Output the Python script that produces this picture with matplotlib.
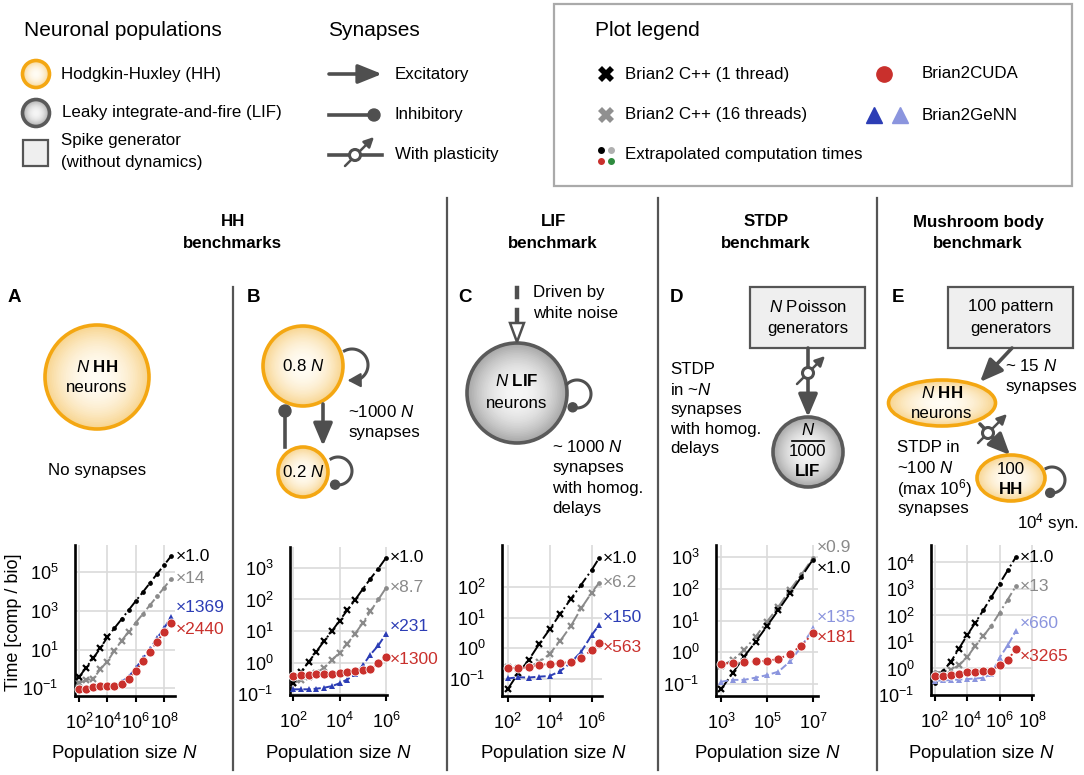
import numpy as np
import matplotlib
matplotlib.use("Agg")
import matplotlib.pyplot as plt
from matplotlib.patches import Circle, Ellipse, Rectangle, Polygon
from matplotlib.ticker import FixedLocator, NullLocator, FuncFormatter
from matplotlib.colors import to_rgb

plt.rcParams['font.family'] = ['Liberation Sans', 'DejaVu Sans']
plt.rcParams['mathtext.fontset'] = 'custom'
plt.rcParams['mathtext.rm'] = 'Liberation Sans'
plt.rcParams['mathtext.it'] = 'Liberation Sans:italic'
plt.rcParams['mathtext.bf'] = 'Liberation Sans:bold'

# ---- benchmark data, log10(N) and log10(time comp/bio) ----
a_n = [2, 2.5, 3, 3.5, 4, 4.5, 5, 5.5, 6, 6.5, 7, 7.5, 8, 8.5]
a_cpp1 = [-0.43, 0.07, 0.55, 1.07, 1.64, 2.11, 2.57, 3.04, 3.51, 3.97, 4.44, 4.91, 5.37, 5.84]
a_cpp16 = [-0.74, -0.57, -0.52, -0.02, 0.38, 0.95, 1.45, 1.93, 2.39, 2.84, 3.3, 3.75, 4.2, 4.66]
a_genn = [-1.0, -0.98, -0.93, -0.88, -0.86, -0.84, -0.66, -0.4, 0.03, 0.55, 1.03, 1.59, 2.1, 2.71]
a_cuda = [-1.05, -1.03, -0.95, -0.88, -0.88, -0.88, -0.76, -0.52, -0.09, 0.41, 0.9, 1.41, 1.9, 2.4]
a_labels = ['×1.0', '×14', '×1369', '×2440']

b_n = [2, 2.33, 2.67, 3, 3.33, 3.67, 4, 4.33, 4.67, 5, 5.33, 5.67, 6]
b_cpp1 = [-0.63, -0.3, 0.02, 0.35, 0.68, 1.0, 1.33, 1.66, 1.99, 2.33, 2.66, 2.98, 3.32]
b_cpp16 = [-0.65, -0.55, -0.45, -0.32, -0.16, 0.08, 0.32, 0.6, 0.92, 1.26, 1.63, 2.0, 2.37]
b_genn = [-0.84, -0.84, -0.84, -0.82, -0.79, -0.74, -0.65, -0.53, -0.37, -0.08, 0.26, 0.55, 0.92]
b_cuda = [-0.42, -0.4, -0.39, -0.37, -0.37, -0.35, -0.34, -0.29, -0.26, -0.24, -0.19, -0.02, 0.19]
b_labels = ['×1.0', '×8.7', '×231', '×1300']

c_n = [2, 2.5, 3, 3.5, 4, 4.5, 5, 5.5, 6, 6.35]
c_cpp1 = [-1.33, -0.81, -0.38, 0.14, 0.62, 1.12, 1.6, 2.07, 2.55, 2.93]
c_cpp16 = [-0.62, -0.65, -0.6, -0.45, -0.18, 0.24, 0.72, 1.3, 1.81, 2.13]
c_genn = [-0.98, -0.94, -0.95, -0.92, -0.9, -0.74, -0.47, -0.11, 0.43, 0.76]
c_cuda = [-0.65, -0.63, -0.62, -0.54, -0.51, -0.49, -0.43, -0.33, -0.05, 0.16]
c_labels = ['×1.0', '×6.2', '×150', '×563']

d_n = [3, 3.5, 4, 4.5, 5, 5.5, 6, 6.5, 7]
d_cpp1 = [-1.17, -0.66, -0.14, 0.33, 0.83, 1.34, 1.86, 2.39, 2.93]
d_cpp16 = [-0.42, -0.25, 0.07, 0.49, 0.97, 1.44, 1.97, 2.46, 2.98]
d_genn = [-0.93, -0.87, -0.87, -0.8, -0.72, -0.61, -0.29, 0.18, 0.76]
d_cuda = [-0.37, -0.33, -0.32, -0.29, -0.27, -0.21, -0.05, 0.21, 0.6]
d_labels = ['×1.0', '×0.9', '×135', '×181']

e_n = [2, 2.5, 3, 3.5, 4, 4.5, 5, 5.5, 6, 6.5, 7]
e_cpp1 = [-0.55, -0.1, 0.25, 0.75, 1.25, 1.72, 2.2, 2.7, 3.2, 3.7, 4.2]
e_cpp16 = [-0.15, -0.12, -0.05, 0.12, 0.42, 0.85, 1.22, 1.62, 2.1, 2.6, 3.1]
e_genn = [-0.46, -0.45, -0.44, -0.42, -0.4, -0.38, -0.35, -0.21, 0.41, 0.87, 1.41]
e_cuda = [-0.28, -0.28, -0.25, -0.19, -0.15, -0.15, -0.11, -0.1, 0.12, 0.32, 0.72]
e_labels = ['×1.0', '×13', '×660', '×3265']

BLACK = '#000000'
GRAY = '#8a8a8a'
RED = '#c9302c'
BLUE = '#2c3db5'
LBLUE = '#8b95de'
SYN = '#4f4f4f'

W, H = 1084, 775
fig = plt.figure(figsize=(W / 100, H / 100), dpi=100)

# overlay in pixel coordinates for diagrams and text
ov = fig.add_axes([0, 0, 1, 1])
ov.set_xlim(0, W)
ov.set_ylim(H, 0)
ov.axis('off')


def txt(x, y, s, size=12.2, **kw):
    kw.setdefault('ha', 'left')
    kw.setdefault('va', 'center')
    ov.text(x, y, s, fontsize=size, **kw)


def arrow(x0, y0, x1, y1, hl=18, hw=8, lw=2.4, color=SYN):
    style = '-|>,head_length=%.2f,head_width=%.2f' % (hl * 0.72 / 10, hw * 0.72 / 10)
    ov.annotate('', xy=(x1, y1), xytext=(x0, y0),
                arrowprops=dict(arrowstyle=style, color=color, lw=lw,
                                mutation_scale=10, shrinkA=0, shrinkB=0))


def neuron(cx, cy, w, h, kind, lw=2.4):
    if kind == 'hh':
        c_in, c_out, edge = '#fffcf4', '#f8d48e', '#f4a712'
    else:
        c_in, c_out, edge = '#f6f6f6', '#a6a6a6', '#5a5a5a'
    a = np.array(to_rgb(c_in))
    b = np.array(to_rgb(c_out))
    for f in np.linspace(1, 0.04, 30):
        col = a + (b - a) * f ** 2.2
        ov.add_patch(Ellipse((cx, cy), w * f, h * f, facecolor=col, edgecolor='none', zorder=2))
    ov.add_patch(Ellipse((cx, cy), w, h, facecolor='none', edgecolor=edge, lw=lw, zorder=3))


def loop(cx, cy, r, a0, a1, end):
    th = np.radians(np.linspace(a0, a1, 60))
    xs = cx + r * np.cos(th)
    ys = cy - r * np.sin(th)
    if end == 'dot':
        ov.plot(xs, ys, color=SYN, lw=2.2, zorder=4)
        ov.add_patch(Circle((xs[-1], ys[-1]), 4.5, color=SYN, zorder=5))
    else:
        ov.plot(xs[:-8], ys[:-8], color=SYN, lw=2.2, zorder=4)
        arrow(xs[-10], ys[-10], xs[-1], ys[-1], hl=11, hw=6, lw=1.5)


def plastic(cx, cy, x0, y0, x1, y1):
    arrow(x0, y0, x1, y1, hl=8, hw=4, lw=1.8)
    ov.add_patch(Circle((cx, cy), 5.5, facecolor='white', edgecolor=SYN, lw=2.2, zorder=6))


def box(x, y, w, h):
    ov.add_patch(Rectangle((x, y), w, h, facecolor='#efefef', edgecolor='#555555', lw=1.6, zorder=2))


# ---- top legends ----
txt(24, 30, 'Neuronal populations', size=15)
neuron(36, 74, 27, 27, 'hh', lw=2.6)
txt(61, 74, 'Hodgkin-Huxley (HH)')
neuron(36, 113, 27, 27, 'lif', lw=2.6)
txt(62, 113, 'Leaky integrate-and-fire (LIF)')
box(22.5, 140, 25.5, 26)
txt(61, 141, 'Spike generator')
txt(61, 162, '(without dynamics)')

txt(328, 30, 'Synapses', size=15)
arrow(329, 74, 382, 74, hl=20, hw=8, lw=2.6)
txt(395, 74, 'Excitatory')
ov.plot([329, 372], [115, 115], color=SYN, lw=2.6)
ov.add_patch(Circle((374, 115), 6, color=SYN, zorder=5))
txt(395, 115, 'Inhibitory')
ov.plot([329, 382], [155, 155], color=SYN, lw=2.6)
plastic(355, 155, 345, 166, 374, 137)
txt(395, 155, 'With plasticity')

ov.add_patch(Rectangle((554, 4), 518, 182, facecolor='none', edgecolor='#aaaaaa', lw=1.6))
txt(595, 30, 'Plot legend', size=15)
ov.plot([606], [74], marker='X', ms=11, color=BLACK, mew=0)
txt(625, 74, 'Brian2 C++ (1 thread)')
ov.plot([606], [115], marker='X', ms=11, color='#909090', mew=0)
txt(625, 115, 'Brian2 C++ (16 threads)')
ov.plot([600.5], [149.5], 'o', ms=4, color=BLACK)
ov.plot([611], [149.5], 'o', ms=4, color='#b0b0b0')
ov.plot([600.5], [161], 'o', ms=4, color=RED)
ov.plot([611], [161], 'o', ms=4, color='#2e8b3e')
txt(625, 155, 'Extrapolated computation times')
ov.plot([884], [74], 'o', ms=11, color=RED)
txt(922, 74, 'Brian2CUDA')
ov.plot([874], [115], '^', ms=11, color=BLUE)
ov.plot([900], [115], '^', ms=11, color=LBLUE)
txt(922, 115, 'Brian2GeNN')

# ---- separators and section titles ----
for sx, top in [(233, 287), (447, 198), (658, 198), (877, 198)]:
    ov.plot([sx, sx], [top, 770], color='#555555', lw=1.6)

for cx, l1, l2 in [(233, 'HH', 'benchmarks'), (553, 'LIF', 'benchmark'),
                   (766, 'STDP', 'benchmark'), (978, 'Mushroom body', 'benchmark')]:
    txt(cx, 222, l1, ha='center', fontweight='bold')
    txt(cx, 243, l2, ha='center', fontweight='bold')

for lx, letter in [(8, 'A'), (247, 'B'), (458, 'C'), (670, 'D'), (892, 'E')]:
    txt(lx, 298, letter, size=13.5, fontweight='bold')

# ---- diagram A ----
neuron(97, 377, 104, 104, 'hh', lw=2.6)
txt(97, 367, '$\\mathit{N}$ HH', ha='center', fontweight='bold')
txt(97, 388, 'neurons', ha='center')
txt(97, 470, 'No synapses', ha='center')

# ---- diagram B ----
neuron(303, 366, 80, 80, 'hh', lw=2.6)
txt(303, 366, '0.8 $\\mathit{N}$', ha='center')
neuron(303, 472, 50, 50, 'hh', lw=2.6)
txt(303, 472, '0.2 $\\mathit{N}$', ha='center')
arrow(323, 404, 323, 446, hl=19, hw=8, lw=2.6)
ov.plot([285, 285], [447, 414], color=SYN, lw=2.6)
ov.add_patch(Circle((285, 411), 6, color=SYN, zorder=5))
loop(352, 365, 16, 118, -106, 'arrow')
loop(338, 471, 14, 120, -102, 'dot')
txt(348, 412, '~1000 $\\mathit{N}$')
txt(348, 432, 'synapses')

# ---- diagram C ----
neuron(517, 393, 100, 100, 'lif', lw=2.6)
txt(517, 381, '$\\mathit{N}$ LIF', ha='center', fontweight='bold')
txt(517, 403, 'neurons', ha='center')
ov.plot([517, 517], [288, 297], color=SYN, lw=3.2)
ov.plot([517, 517], [310, 321], color=SYN, lw=3.2)
ov.add_patch(Polygon([[510, 323], [524, 323], [517, 342]], closed=True,
                     facecolor='white', edgecolor=SYN, lw=1.8, zorder=4))
txt(533, 293, 'Driven by')
txt(533, 313, 'white noise')
loop(577, 394, 14, 135, -108, 'dot')
for i, s in enumerate(['~ 1000 $\\mathit{N}$', 'synapses', 'with homog.', 'delays']):
    txt(552, 447 + 20.5 * i, s)

# ---- diagram D ----
box(750, 287, 115, 61)
txt(808, 307, '$\\mathit{N}$ Poisson', ha='center')
txt(808, 328, 'generators', ha='center')
arrow(808, 348, 808, 417, hl=19, hw=8, lw=2.6)
plastic(808, 373, 797, 384, 825, 356)
neuron(808, 452, 70, 70, 'lif', lw=2.6)
txt(808, 430, '$\\mathit{N}$', ha='center')
ov.plot([792, 824], [441, 441], color='black', lw=1.2, zorder=5)
txt(808, 452, '1000', ha='center')
txt(808, 472, 'LIF', ha='center', fontweight='bold')
for i, s in enumerate(['STDP', 'in ~$\\mathit{N}$', 'synapses', 'with homog.', 'delays']):
    txt(670, 370 + 19.7 * i, s)

# ---- diagram E ----
box(948, 287, 125, 61)
txt(1011, 307, '100 pattern', ha='center')
txt(1011, 328, 'generators', ha='center')
arrow(1012, 348, 980, 382, hl=19, hw=8, lw=2.6)
txt(1005, 366, '~ 15 $\\mathit{N}$')
txt(1005, 386, 'synapses')
neuron(942, 403, 107, 46, 'hh', lw=2.6)
txt(942, 393, '$\\mathit{N}$ HH', ha='center', fontweight='bold')
txt(942, 414, 'neurons', ha='center')
arrow(980, 424, 1010, 455, hl=18, hw=8, lw=2.6)
plastic(988, 433, 978, 443, 1007, 414)
neuron(1011, 478, 68, 46, 'hh', lw=2.6)
txt(1011, 470, '100', ha='center')
txt(1011, 490, 'HH', ha='center', fontweight='bold')
loop(1052, 480, 13, 117, -98, 'dot')
txt(1017, 523, '$10^{4}$ syn.')
for i, s in enumerate(['STDP in', '~100 $\\mathit{N}$', '(max $10^{6}$)', 'synapses']):
    txt(897, 448 + 20.3 * i, s)

# ---- benchmark plots ----
fmt = FuncFormatter(lambda v, p: '$10^{%d}$' % int(round(np.log10(v))))


def panel(px, xl, yl, xt, yt):
    left, right, top, bottom = px
    ax = fig.add_axes([left / W, 1 - bottom / H, (right - left) / W, (bottom - top) / H])
    ax.set_facecolor('none')
    ax.set_xscale('log')
    ax.set_yscale('log')
    ax.set_xlim(10.0 ** xl[0], 10.0 ** xl[1])
    ax.set_ylim(10.0 ** yl[0], 10.0 ** yl[1])
    ax.xaxis.set_major_locator(FixedLocator([10.0 ** k for k in xt]))
    ax.yaxis.set_major_locator(FixedLocator([10.0 ** k for k in yt]))
    ax.xaxis.set_minor_locator(NullLocator())
    ax.yaxis.set_minor_locator(NullLocator())
    ax.xaxis.set_major_formatter(fmt)
    ax.yaxis.set_major_formatter(fmt)
    ax.grid(True, color='#dadada', lw=1.2)
    ax.set_axisbelow(True)
    for s in ['top', 'right']:
        ax.spines[s].set_visible(False)
    for s in ['left', 'bottom']:
        ax.spines[s].set_linewidth(1.9)
    ax.tick_params(axis='x', length=4, width=1.5, pad=8, labelsize=13)
    ax.tick_params(axis='y', length=0, pad=12, labelsize=13)
    return ax


def series(ax, n, t, color, ls, marker, ms, meas, z):
    x = 10.0 ** np.asarray(n)
    y = 10.0 ** np.asarray(t)
    ax.plot(x, y, color=color, ls=ls, lw=1.4, zorder=z, clip_on=False)
    i0, i1 = meas
    kw = dict(ls='none', color=color, zorder=z + 0.5, clip_on=False)
    if marker == 'o':
        kw.update(mec='white', mew=0.6)
    elif marker == 'x':
        kw.update(mew=1.6)
    else:
        kw.update(mew=0)
    ax.plot(x[i0:i1], y[i0:i1], marker=marker, ms=ms, **kw)
    rest = np.r_[0:i0, i1:len(x)].astype(int)
    if len(rest):
        ax.plot(x[rest], y[rest], ls='none', marker='o', ms=2.4, color=color,
                zorder=z + 0.5, clip_on=False)


def endlabel(ax, n, t, s, color, dy):
    ax.annotate(s, xy=(10.0 ** n[-1], 10.0 ** t[-1]), xytext=(3, -dy * 0.72),
                textcoords='offset points', color=color, fontsize=12.5,
                ha='left', va='center', annotation_clip=False)


panels = [
    dict(px=(75, 175, 545, 696), xl=(1.72, 8.77), yl=(-1.4, 6.41), xt=[2, 4, 6, 8], yt=[-1, 1, 3, 5],
         n=a_n, cpp1=a_cpp1, cpp16=a_cpp16, genn=a_genn, cuda=a_cuda, labels=a_labels,
         m1=(0, 5), m16=(0, 8), gcol=BLUE, dys=[0, 0, -9, 7], cx=124),
    dict(px=(290, 387, 547, 695), xl=(1.87, 6.04), yl=(-1.02, 3.66), xt=[2, 4, 6], yt=[-1, 0, 1, 2, 3],
         n=b_n, cpp1=b_cpp1, cpp16=b_cpp16, genn=b_genn, cuda=b_cuda, labels=b_labels,
         m1=(0, 9), m16=(0, 11), gcol=BLUE, dys=[0, 0, -7, 3], cx=338),
    dict(px=(502, 602, 545, 696), xl=(1.73, 6.49), yl=(-1.55, 3.36), xt=[2, 4, 6], yt=[-1, 0, 1, 2],
         n=c_n, cpp1=c_cpp1, cpp16=c_cpp16, genn=c_genn, cuda=c_cuda, labels=c_labels,
         m1=(0, 7), m16=(0, 9), gcol=BLUE, dys=[0, 0, -7, 4], cx=553),
    dict(px=(716, 818, 545, 696), xl=(2.78, 7.22), yl=(-1.38, 3.39), xt=[3, 5, 7], yt=[-1, 0, 1, 2, 3],
         n=d_n, cpp1=d_cpp1, cpp16=d_cpp16, genn=d_genn, cuda=d_cuda, labels=d_labels,
         m1=(0, 7), m16=(0, 7), gcol=LBLUE, dys=[9, -10, -11, 4], cx=767),
    dict(px=(931, 1033, 545, 695), xl=(1.78, 8.06), yl=(-1.0, 4.66), xt=[2, 4, 6, 8], yt=[-1, 0, 1, 2, 3, 4],
         n=e_n, cpp1=e_cpp1, cpp16=e_cpp16, genn=e_genn, cuda=e_cuda, labels=e_labels,
         m1=(2, 6), m16=(2, 7), gcol=LBLUE, dys=[0, 0, -8, 7], cx=981),
]

for p in panels:
    ax = panel(p['px'], p['xl'], p['yl'], p['xt'], p['yt'])
    n = p['n']
    series(ax, n, p['cpp16'], GRAY, '-.', 'x', 5, p['m16'], 3)
    series(ax, n, p['cpp1'], BLACK, '-.', 'x', 5, p['m1'], 4)
    series(ax, n, p['genn'], p['gcol'], '--', '^', 5, (0, len(n)), 5)
    series(ax, n, p['cuda'], RED, ':', 'o', 6.5, (0, len(n)), 6)
    cols = [BLACK, GRAY, p['gcol'], RED]
    vals = [p['cpp1'], p['cpp16'], p['genn'], p['cuda']]
    for s, c, v, dy in zip(p['labels'], cols, vals, p['dys']):
        endlabel(ax, n, v, s, c, dy)
    txt(p['cx'], 753, 'Population size $\\mathit{N}$', size=13.4, ha='center')

txt(14, 622, 'Time [comp / bio]', size=13, ha='center', rotation=90)

fig.savefig('out.png', dpi=100)
